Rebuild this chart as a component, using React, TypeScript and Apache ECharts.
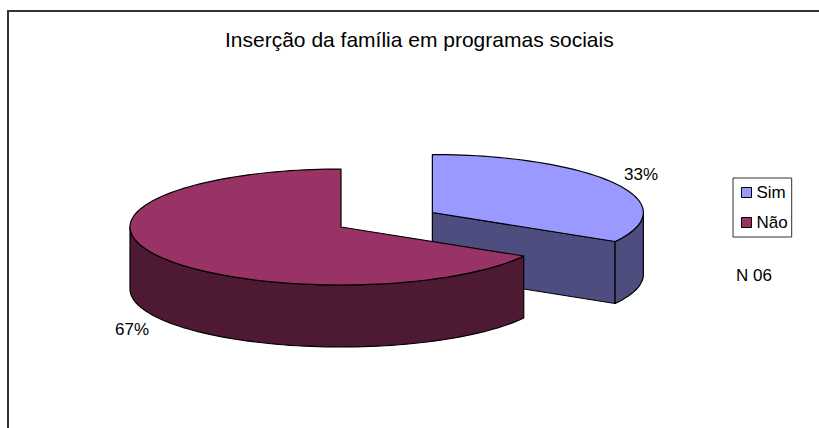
import React, { useEffect, useRef } from "react";
import * as echarts from "echarts";

const categories = ["Sim", "Não"];
const counts = [2, 4];
const topColors = ["#9999FF", "#993366"];
const sideColors = ["#4D4D80", "#4D1933"];
const titleText = "Inserção da família em programas sociais";
const noteText = "N 06";

const CX = 341, CY = 227, RX = 211, RY = 58, DEPTH = 62;
const EXPLODE = [0.5, 0];
const LABEL_POS = [[641, 174], [132, 329]];
const total = counts.reduce((a, b) => a + b, 0);

function arc(cx: number, cy: number, a0: number, a1: number) {
  const pts: number[][] = [];
  const n = Math.max(2, Math.ceil(Math.abs(a1 - a0) / 2));
  for (let i = 0; i <= n; i++) {
    const t = ((a0 + ((a1 - a0) * i) / n) * Math.PI) / 180;
    pts.push([cx + RX * Math.cos(t), cy + RY * Math.sin(t)]);
  }
  return pts;
}

function makeRenderItem(index: number) {
  return (_params: any, api: any) => {
    const before = counts.slice(0, index).reduce((a, b) => a + b, 0);
    const a0 = -90 + (before / total) * 360;
    const a1 = a0 + (api.value(0) / total) * 360;
    const mid = (((a0 + a1) / 2) * Math.PI) / 180;
    const cx = CX + EXPLODE[index] * RX * Math.cos(mid);
    const cy = CY + EXPLODE[index] * RY * Math.sin(mid);
    const edge = { stroke: "#000", lineWidth: 1.2, lineJoin: "round" };
    const children: any[] = [];
    const poly = (points: number[][], fill: string) =>
      children.push({ type: "polygon", shape: { points }, style: { fill, ...edge } });
    const down = (pts: number[][]) => pts.map(([x, y]) => [x, y + DEPTH]);
    // Cut faces whose front is turned towards the viewer
    [a0, a1].forEach((a, i) => {
      const t = (a * Math.PI) / 180;
      const facing = i === 0 ? Math.cos(t) < -1e-6 : Math.cos(t) > 1e-6;
      if (facing && Math.sin(t) > 0) {
        const p = [cx + RX * Math.cos(t), cy + RY * Math.sin(t)];
        poly([[cx, cy], p, [p[0], p[1] + DEPTH], [cx, cy + DEPTH]], sideColors[index]);
      }
    });
    // Outer wall: only the part on the near half of the ellipse
    const w0 = Math.max(a0, 0);
    const w1 = Math.min(a1, 180);
    if (w1 > w0) {
      const rim = arc(cx, cy, w0, w1);
      poly([...rim, ...down(rim).reverse()], sideColors[index]);
    }
    // Top surface
    poly([[cx, cy], ...arc(cx, cy, a0, a1)], topColors[index]);
    const pct = Math.round((api.value(0) / total) * 100);
    children.push({
      type: "text",
      x: LABEL_POS[index][0],
      y: LABEL_POS[index][1],
      style: {
        text: pct + "%",
        fill: "#000",
        font: '17px "Liberation Sans", Arial, sans-serif',
        textAlign: "center",
        textVerticalAlign: "middle",
      },
    });
    return { type: "group", children };
  };
}

export default function App() {
  const ref = useRef<HTMLDivElement>(null);
  useEffect(() => {
    document.body.style.margin = "0";
    const chart = echarts.init(ref.current!, null, { renderer: "svg" });
    chart.setOption({
      animation: false,
      backgroundColor: "#fff",
      textStyle: { fontFamily: '"Liberation Sans", Arial, sans-serif' },
      title: {
        text: titleText,
        left: 225,
        top: 29,
        padding: 0,
        textStyle: { fontSize: 21, fontWeight: "normal", color: "#000" },
      },
      legend: {
        left: 733,
        top: 178,
        orient: "vertical",
        data: categories,
        icon: "rect",
        itemWidth: 10,
        itemHeight: 10,
        itemGap: 13,
        padding: [6, 4, 6, 8],
        borderColor: "#333",
        borderWidth: 1,
        itemStyle: { borderColor: "#000", borderWidth: 1 },
        selectedMode: false,
        textStyle: { fontSize: 17, color: "#000", padding: [0, 0, 0, 0] },
      },
      graphic: [
        { type: "line", shape: { x1: 8, y1: 11, x2: 819, y2: 11 }, style: { stroke: "#333", lineWidth: 2 } },
        { type: "line", shape: { x1: 8, y1: 10, x2: 8, y2: 428 }, style: { stroke: "#333", lineWidth: 2 } },
        {
          type: "text",
          x: 736,
          y: 275,
          style: {
            text: noteText,
            fill: "#000",
            font: '17px "Liberation Sans", Arial, sans-serif',
            textVerticalAlign: "middle",
          },
        },
      ],
      series: categories.map((name, i) => ({
        type: "custom",
        name,
        coordinateSystem: "none",
        itemStyle: { color: topColors[i] },
        renderItem: makeRenderItem(i),
        data: [[counts[i]]],
        silent: true,
      })),
    });
    return () => chart.dispose();
  }, []);
  return <div ref={ref} style={{ width: 819, height: 428 }} />;
}
